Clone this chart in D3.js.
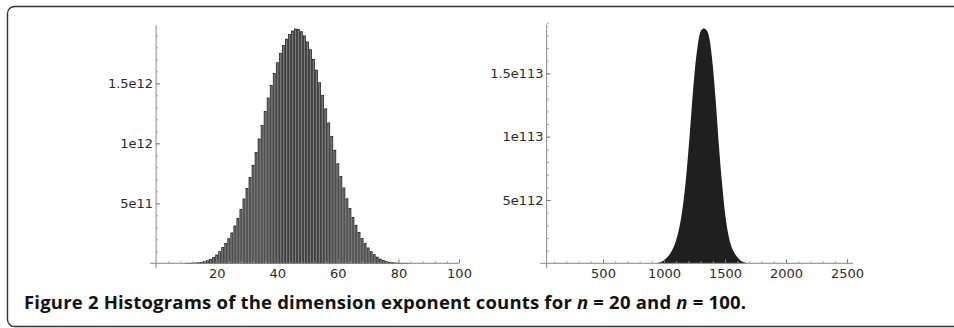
<!DOCTYPE html>
<html>
<head>
<meta charset="utf-8">
<script src="https://cdn.jsdelivr.net/npm/d3@7"></script>
<style>
  body { margin: 0; background: #fff; overflow: hidden; }
  svg { display: block; }
</style>
</head>
<body>
<div id="container"></div>
<script>
// n = 20 : one bar per exponent (values in units of 1e12)
const leftExponents = d3.range(10, 84);
const leftCounts = [
  0.0003, 0.0006, 0.0012, 0.0025, 0.005, 0.008, 0.014, 0.022, 0.033, 0.050,
  0.069, 0.097, 0.131, 0.164, 0.205, 0.253, 0.311, 0.375, 0.450, 0.536,
  0.625, 0.714, 0.817, 0.925, 1.036, 1.150, 1.265, 1.378, 1.483, 1.583,
  1.672, 1.750, 1.815, 1.868, 1.907, 1.936, 1.953, 1.950, 1.930, 1.895,
  1.845, 1.780, 1.700, 1.610, 1.505, 1.400, 1.287, 1.170, 1.058, 0.943,
  0.830, 0.725, 0.628, 0.538, 0.458, 0.382, 0.317, 0.258, 0.206, 0.164,
  0.128, 0.097, 0.072, 0.052, 0.036, 0.024, 0.015, 0.009, 0.005, 0.003,
  0.0015, 0.0008, 0.0004, 0.0002
].map(d => d * 1e12);

// n = 100 : bars too dense to separate, read every 25 exponents (units of 1e112)
const rightExponents = [925, 950, 975, 1000, 1025, 1050, 1075, 1100, 1125, 1150,
  1175, 1200, 1225, 1250, 1275, 1300, 1325, 1350, 1375, 1400, 1425, 1450, 1475,
  1500, 1525, 1550, 1575, 1600, 1625, 1650, 1675, 1700];
const rightCounts = [0, 0.04, 0.1, 0.25, 0.45, 0.75, 1.2, 1.85, 2.8, 4.2,
  6.2, 8.9, 12.0, 15.0, 17.1, 18.3, 18.55, 18.4, 17.6, 15.6, 12.7, 9.3, 6.4,
  4.0, 2.4, 1.4, 0.85, 0.5, 0.25, 0.1, 0.03, 0].map(d => d * 1e112);

const leftXTicks = [20, 40, 60, 80, 100];
const leftYTicks = [5e11, 1e12, 1.5e12];
const rightXTicks = [500, 1000, 1500, 2000, 2500];
const rightYTicks = [5e112, 1e113, 1.5e113];

const caption = "Figure 2 Histograms of the dimension exponent counts for ";

const width = 954;
const height = 328;
const base = 263.3;

const svg = d3.select("#container").append("svg")
    .attr("width", width)
    .attr("height", height);

// figure frame, open on the right
svg.append("path")
  .attr("d", "M960,6.5 H14.5 A7,7 0 0 0 7.5,13.5 V319.5 A7,7 0 0 0 14.5,326.5 H960")
  .attr("fill", "none")
  .attr("stroke", "#333")
  .attr("stroke-width", 1.4);

const sci = v => v.toExponential().replace("+", "");

function styleText(a) {
  a.attr("font-family", "'DejaVu Sans', sans-serif").attr("font-size", 13);
  a.selectAll("text").attr("fill", "#2a2a2a");
}

function drawAxes(g, x, y, yAxisAt, xFrom, xTo, yTop, xTicks, xMinor, yTicks, yMinor) {
  const x0 = x(yAxisAt);
  g.append("line")
    .attr("x1", x(xFrom)).attr("x2", x(xTo))
    .attr("y1", base).attr("y2", base)
    .attr("stroke", "#888");
  g.append("line")
    .attr("x1", x0).attr("x2", x0)
    .attr("y1", base + 5).attr("y2", y(yTop))
    .attr("stroke", "#888");

  g.append("g")
    .attr("transform", "translate(0," + base + ")")
    .call(d3.axisBottom(x).tickValues(xMinor).tickSizeInner(-2).tickSizeOuter(0).tickFormat(""))
    .call(a => a.select(".domain").remove())
    .call(a => a.selectAll("line").attr("stroke", "#999"));
  g.append("g")
    .attr("transform", "translate(0," + base + ")")
    .call(d3.axisBottom(x).tickValues(xTicks).tickSizeInner(-4).tickSizeOuter(0).tickPadding(5).tickFormat(d3.format("d")))
    .call(a => a.select(".domain").remove())
    .call(a => a.selectAll("line").attr("stroke", "#777"))
    .call(styleText);

  g.append("g")
    .attr("transform", "translate(" + x0 + ",0)")
    .call(d3.axisLeft(y).tickValues(yMinor).tickSizeInner(-2).tickSizeOuter(0).tickFormat(""))
    .call(a => a.select(".domain").remove())
    .call(a => a.selectAll("line").attr("stroke", "#999"));
  g.append("g")
    .attr("transform", "translate(" + x0 + ",0)")
    .call(d3.axisLeft(y).tickValues(yTicks).tickSizeInner(-4).tickSizeOuter(0).tickPadding(3).tickFormat(sci))
    .call(a => a.select(".domain").remove())
    .call(a => a.selectAll("line").attr("stroke", "#777"))
    .call(styleText);
}

// ---- left panel (n = 20)
const xL = d3.scaleLinear().domain([0, 100]).range([156.1, 459]);
const yL = d3.scaleLinear().domain([0, 1e12]).range([base, base - 120]);
const gL = svg.append("g");

gL.selectAll("rect.bar")
  .data(leftCounts)
  .enter().append("rect")
  .attr("class", "bar")
  .attr("x", (d, i) => xL(leftExponents[i]) - 1)
  .attr("width", 2)
  .attr("y", d => yL(d))
  .attr("height", d => base - yL(d))
  .attr("fill", "#7c7c7c")
  .attr("stroke", "#111")
  .attr("stroke-width", 0.7);

drawAxes(gL, xL, yL, 0, -2, 100, 1.985e12,
  leftXTicks, d3.range(4, 100, 4).filter(v => v % 20), leftYTicks,
  d3.range(1e11, 2e12, 1e11));

// ---- right panel (n = 100)
const xR = d3.scaleLinear().domain([0, 2500]).range([542, 847]);
const yR = d3.scaleLinear().domain([0, 1e113]).range([base, base - 126.6]);
const gR = svg.append("g");

gR.append("path")
  .datum(rightCounts)
  .attr("d", d3.area()
    .x((d, i) => xR(rightExponents[i]))
    .y0(base)
    .y1(d => yR(d))
    .curve(d3.curveMonotoneX))
  .attr("fill", "#1f1f1f");

drawAxes(gR, xR, yR, 38, -16, 2550, 1.882e113,
  rightXTicks, d3.range(100, 2600, 100).filter(v => v % 500), rightYTicks,
  d3.range(1e112, 1.9e113, 1e112));

// caption
const cap = svg.append("text")
  .attr("x", 24).attr("y", 309)
  .attr("font-family", "'Open Sans', sans-serif")
  .attr("font-weight", "bold")
  .attr("font-size", 18.5)
  .attr("textLength", 722)
  .attr("lengthAdjust", "spacing")
  .attr("fill", "#111");
cap.append("tspan").text(caption);
cap.append("tspan").attr("font-style", "italic").text("n");
cap.append("tspan").text(" = 20 and ");
cap.append("tspan").attr("font-style", "italic").text("n");
cap.append("tspan").text(" = 100.");
</script>
</body>
</html>
